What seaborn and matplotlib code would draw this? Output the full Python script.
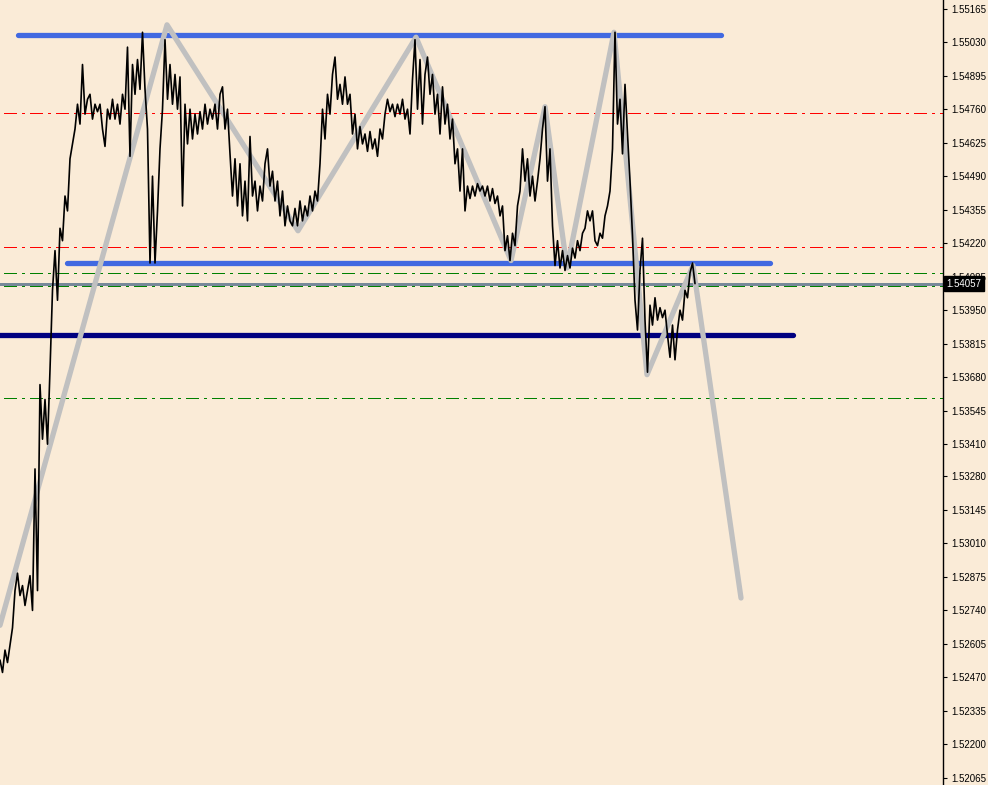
import numpy as np
import pandas as pd
import seaborn as sns
import matplotlib.pyplot as plt
import matplotlib.transforms as mtransforms

# close prices, one every 2.5 px of chart width
close = [
    1.5254, 1.5249, 1.5258, 1.5253, 1.5260, 1.5267, 1.5282, 1.5289, 1.5280, 1.5284,
    1.5276, 1.5282, 1.5288, 1.5274, 1.5331, 1.5282, 1.5365, 1.5343, 1.5359, 1.5341,
    1.5371, 1.5403, 1.5419, 1.5399, 1.5428, 1.5423, 1.5441, 1.5435, 1.5456, 1.5462,
    1.5468, 1.5478, 1.5470, 1.5494, 1.5474, 1.5480, 1.5482, 1.5472, 1.5478, 1.5475,
    1.5478, 1.5468, 1.5461, 1.5476, 1.5472, 1.5480, 1.5472, 1.5478, 1.5470, 1.5482,
    1.5476, 1.5501, 1.5457, 1.5494, 1.5482, 1.5496, 1.5484, 1.5507, 1.5484, 1.5468,
    1.5414, 1.5449, 1.5414, 1.5435, 1.5460, 1.5476, 1.5504, 1.5480, 1.5494, 1.5478,
    1.5490, 1.5476, 1.5489, 1.5437, 1.5478, 1.5462, 1.5476, 1.5464, 1.5474, 1.5466,
    1.5475, 1.5468, 1.5478, 1.5470, 1.5476, 1.5472, 1.5478, 1.5468, 1.5482, 1.5485,
    1.5468, 1.5476, 1.5458, 1.5441, 1.5456, 1.5437, 1.5454, 1.5433, 1.5447, 1.5431,
    1.5465, 1.5441, 1.5447, 1.5435, 1.5445, 1.5439, 1.5454, 1.5460, 1.5445, 1.5451,
    1.5439, 1.5447, 1.5433, 1.5443, 1.5429, 1.5437, 1.5431, 1.5429, 1.5436, 1.5429,
    1.5439, 1.5431, 1.5437, 1.5433, 1.5441, 1.5435, 1.5443, 1.5439, 1.5454, 1.5476,
    1.5464, 1.5482, 1.5474, 1.5490, 1.5497, 1.5480, 1.5486, 1.5478, 1.5489, 1.5478,
    1.5482, 1.5466, 1.5474, 1.5460, 1.5469, 1.5462, 1.5466, 1.5459, 1.5467, 1.5460,
    1.5464, 1.5457, 1.5468, 1.5464, 1.5474, 1.5480, 1.5475, 1.5478, 1.5473, 1.5478,
    1.5474, 1.5480, 1.5472, 1.5476, 1.5466, 1.5488, 1.5504, 1.5476, 1.5496, 1.5470,
    1.5490, 1.5497, 1.5482, 1.5490, 1.5474, 1.5482, 1.5466, 1.5485, 1.5470, 1.5478,
    1.5464, 1.5472, 1.5454, 1.5460, 1.5443, 1.5460, 1.5435, 1.5445, 1.5440, 1.5445,
    1.5441, 1.5446, 1.5443, 1.5445, 1.5441, 1.5445, 1.5439, 1.5444, 1.5438, 1.5441,
    1.5433, 1.5437, 1.5419, 1.5425, 1.5415, 1.5426, 1.5421, 1.5437, 1.5443, 1.5460,
    1.5447, 1.5456, 1.5441, 1.5449, 1.5439, 1.5447, 1.5456, 1.5468, 1.5477, 1.5447,
    1.5460, 1.5429, 1.5413, 1.5423, 1.5412, 1.5419, 1.5411, 1.5417, 1.5412, 1.5420,
    1.5416, 1.5423, 1.5419, 1.5426, 1.5428, 1.5435, 1.5431, 1.5435, 1.5423, 1.5421,
    1.5426, 1.5424, 1.5433, 1.5437, 1.5443, 1.5460, 1.5507, 1.5470, 1.5480, 1.5458,
    1.5486, 1.5466, 1.5447, 1.5425, 1.5399, 1.5387, 1.5411, 1.5424, 1.5391, 1.5370,
    1.5397, 1.5389, 1.5400, 1.5391, 1.5396, 1.5392, 1.5395, 1.5385, 1.5376, 1.5389,
    1.5375, 1.5387, 1.5395, 1.5391, 1.5403, 1.5400, 1.5410, 1.5414, 1.54057,
]

# zigzag indicator vertices (bar, price)
zz_bar = [0, 66.8, 119.2, 166.4, 204.4, 218, 226.8, 245.6, 258.8, 277.2, 296.4]
zz_price = [1.5268, 1.5510, 1.5427, 1.5505, 1.5415, 1.5477, 1.5412, 1.5507, 1.5369, 1.5413, 1.5279]

# trend / level objects: (start bar, end bar, price)
blue_levels = [(7.2, 288.4, 1.5506), (26.8, 308.0, 1.5414)]
navy_level = (-5, 317.2, 1.5385)
red_levels = [1.54745, 1.54205]
green_levels = [1.54098, 1.54047, 1.53598]
bid = 1.54057

tick_labels = ['1.55165', '1.55030', '1.54895', '1.54760', '1.54625', '1.54490',
               '1.54355', '1.54220', '1.54085', '1.53950', '1.53815', '1.53680',
               '1.53545', '1.53410', '1.53280', '1.53145', '1.53010', '1.52875',
               '1.52740', '1.52605', '1.52470', '1.52335', '1.52200', '1.52065']

bg = '#FAEBD7'
sns.set_style('white')
plt.rcParams['font.family'] = ['Liberation Sans', 'DejaVu Sans']

fig = plt.figure(figsize=(9.88, 7.85), dpi=100, facecolor=bg)
ax = fig.add_axes([0, 0, 943 / 988, 1])
ax.set_facecolor(bg)

x_max = 377.2
for r in red_levels:
    ax.plot([1.6, x_max], [r, r], color='red', lw=1.0, ls=(0, (9, 4, 2, 4)),
            antialiased=False, zorder=1)
for g in green_levels:
    ax.plot([1.6, x_max], [g, g], color='green', lw=1.0, ls=(0, (9, 4, 2, 4)),
            antialiased=False, zorder=1)
ax.axhline(bid, color='#778899', lw=1.0, antialiased=False, zorder=1)

for x0, x1, p in blue_levels:
    ax.plot([x0, x1], [p, p], color='#4169E1', lw=3.8, solid_capstyle='round', zorder=2)
ax.plot([navy_level[0], navy_level[1]], [navy_level[2]] * 2, color='#000080', lw=3.8,
        solid_capstyle='round', zorder=2)

zz = pd.DataFrame({'bar': zz_bar, 'price': zz_price})
sns.lineplot(data=zz, x='bar', y='price', ax=ax, color='#C0C0C0', lw=3.8,
             sort=False, estimator=None, zorder=3)

df = pd.DataFrame({'bar': np.arange(len(close)), 'price': close})
sns.lineplot(data=df, x='bar', y='price', ax=ax, color='black', lw=1.2,
             estimator=None, zorder=4)

ax.set_xlim(0, x_max)
ax.set_ylim(1.520364, 1.5520)
ax.set_xlabel('')
ax.set_ylabel('')
ax.set_xticks([])
ax.yaxis.tick_right()
ax.set_yticks([float(t) for t in tick_labels])
ax.set_yticklabels(tick_labels)
ax.tick_params(axis='y', direction='out', length=3, width=0.8, color='black',
               labelsize=7, pad=3, labelcolor='black')
for side in ['left', 'top', 'bottom']:
    ax.spines[side].set_visible(False)
ax.spines['right'].set_color('black')
ax.spines['right'].set_linewidth(1)

trans = mtransforms.blended_transform_factory(ax.transAxes, ax.transData)
ax.text(1.004, bid, '1.54057', transform=trans, fontsize=7, color='white',
        va='center', ha='left', zorder=10,
        bbox=dict(boxstyle='square,pad=0.25', fc='black', ec='black'))

fig.savefig('out.png', dpi=100, facecolor=bg)
